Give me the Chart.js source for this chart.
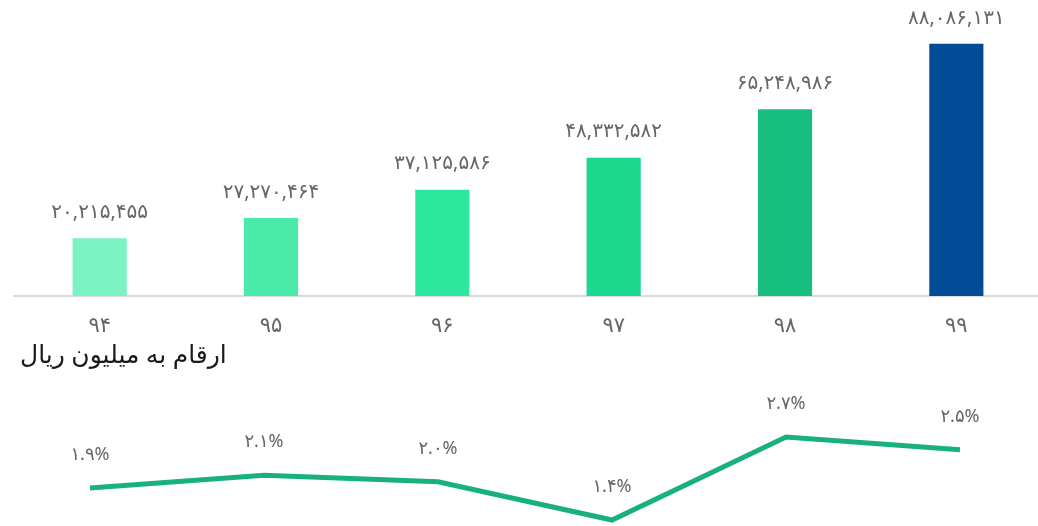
<!DOCTYPE html>
<html lang="fa">
<head>
<meta charset="utf-8">
<script src="https://cdn.jsdelivr.net/npm/chart.js@4.4.1/dist/chart.umd.min.js"></script>
<style>
  html, body { margin: 0; padding: 0; background: #fff; overflow: hidden; }
  #wrap { position: relative; width: 1038px; height: 526px; overflow: hidden; }
  #bar-box { position: absolute; left: 0; top: 0; width: 1042px; height: 340px; }
  #line-box { position: absolute; left: 0; top: 380px; width: 1038px; height: 146px; }
  #unit {
    position: absolute; left: 20px; top: 336px;
    font-family: 'Noto Sans', 'DejaVu Sans', sans-serif; font-size: 25px;
    color: #1a1a1a; direction: rtl; white-space: nowrap;
  }
</style>
</head>
<body>
<div id="wrap">
  <div id="bar-box"><canvas id="bar-chart"></canvas></div>
  <div id="unit">ارقام به میلیون ریال</div>
  <div id="line-box"><canvas id="line-chart"></canvas></div>
</div>
<script>
// Data
const years = ['94', '95', '96', '97', '98', '99'];
const amounts = [20215455, 27270464, 37125586, 48332582, 65248986, 88086131];
const growth = [1.9, 2.1, 2.0, 1.4, 2.7, 2.5];
const barColors = ['#7AF2C4', '#4AEAAB', '#2CE79E', '#1AD88E', '#18BF80', '#024C97'];

const FONT = "'Noto Sans', 'DejaVu Sans', sans-serif";
const TEXT_GRAY = '#666666';

// Latin digits -> Persian digits
function toFa(str) {
    return String(str).replace(/[0-9]/g, d => '۰۱۲۳۴۵۶۷۸۹'[d]);
}

function withCommas(n) {
    return n.toString().replace(/\B(?=(\d{3})+(?!\d))/g, ',');
}

// Draws value text above each point / bar
const valueLabels = {
    id: 'valueLabels',
    afterDatasetsDraw(chart, args, opts) {
        const ctx = chart.ctx;
        const meta = chart.getDatasetMeta(0);
        ctx.save();
        ctx.font = opts.size + 'px ' + FONT;
        ctx.fillStyle = TEXT_GRAY;
        ctx.textAlign = 'center';
        ctx.textBaseline = 'middle';
        meta.data.forEach((el, i) => {
            const v = chart.data.datasets[0].data[i];
            ctx.fillText(opts.format(v), el.x, el.y - opts.offset);
        });
        ctx.restore();
    }
};

Chart.defaults.font.family = FONT;
Chart.defaults.animation = false;

// Bar chart
new Chart(document.getElementById('bar-chart'), {
    type: 'bar',
    data: {
        labels: years.map(toFa),
        datasets: [{
            data: amounts,
            backgroundColor: barColors,
            barPercentage: 0.316,
            categoryPercentage: 1
        }]
    },
    options: {
        responsive: true,
        maintainAspectRatio: false,
        layout: { padding: { left: 14, right: 0, top: 0, bottom: 0 } },
        plugins: {
            legend: { display: false },
            tooltip: { enabled: false },
            valueLabels: { size: 20, offset: 26, format: v => toFa(withCommas(v)) }
        },
        scales: {
            x: {
                grid: { display: false, drawTicks: false },
                border: { display: true, color: '#D9D9D9', width: 2 },
                ticks: { color: TEXT_GRAY, font: { size: 21 }, padding: 17 },
                afterFit: scale => { scale.height = 44; }
            },
            y: {
                display: false,
                min: 0,
                max: 103400000
            }
        }
    },
    plugins: [valueLabels]
});

// Line chart
new Chart(document.getElementById('line-chart'), {
    type: 'line',
    data: {
        labels: years.map(toFa),
        datasets: [{
            data: growth,
            borderColor: '#17B07E',
            borderWidth: 5,
            pointRadius: 0,
            tension: 0,
            clip: false
        }]
    },
    options: {
        responsive: true,
        maintainAspectRatio: false,
        layout: { padding: { left: 90, right: 78, top: 0, bottom: 0 } },
        plugins: {
            legend: { display: false },
            tooltip: { enabled: false },
            valueLabels: { size: 18, offset: 33, format: v => toFa(v.toFixed(1)) + '%' }
        },
        scales: {
            x: { display: false, offset: false },
            y: { display: false, min: 1.306, max: 3.593 }
        }
    },
    plugins: [valueLabels]
});
</script>
</body>
</html>
